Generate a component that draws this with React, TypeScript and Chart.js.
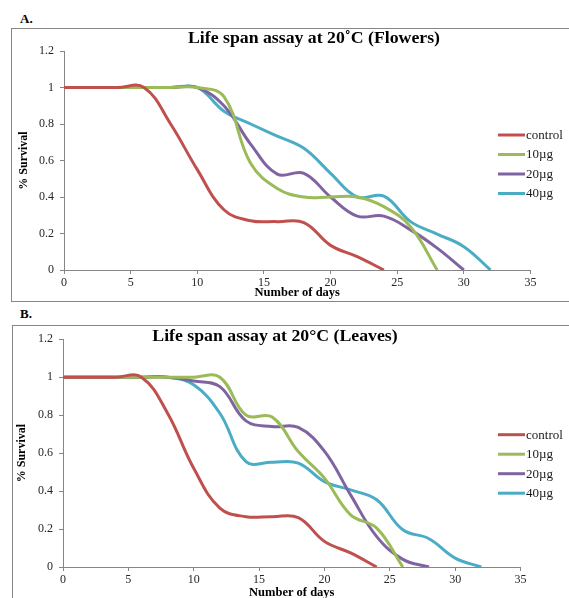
import React, { useEffect, useRef } from "react";
import { Chart, registerables } from "chart.js";

Chart.register(...registerables);

// ---------- data ----------
const seriesNames = ["control", "10µg", "20µg", "40µg"];
const seriesColors = ["#C0504D", "#9BBB59", "#8064A2", "#4BACC6"];

// Panel A (Flowers)
const controlDaysA = [0, 2, 4, 6, 8, 10, 12, 14, 16, 18, 20, 22, 24];
const controlA = [1, 1, 1, 1, 0.8, 0.55, 0.33, 0.27, 0.265, 0.26, 0.135, 0.073, 0];
const dose10DaysA = [0, 2, 4, 6, 8, 10, 12, 14, 16, 18, 20, 22, 24, 26, 28];
const dose10A = [1, 1, 1, 1, 1, 1, 0.95, 0.585, 0.447, 0.4, 0.4, 0.4, 0.347, 0.237, 0];
const dose20DaysA = [0, 2, 4, 6, 8, 10, 12, 14, 16, 18, 20, 22, 24, 26, 28, 30];
const dose20A = [1, 1, 1, 1, 1, 1, 0.9, 0.69, 0.525, 0.53, 0.4, 0.295, 0.295, 0.22, 0.12, 0];
const dose40DaysA = [0, 2, 4, 6, 8, 10, 12, 14, 16, 18, 20, 22, 24, 26, 28, 30, 32];
const dose40A = [1, 1, 1, 1, 1, 1, 0.87, 0.8, 0.734, 0.667, 0.53, 0.4, 0.405, 0.265, 0.197, 0.128, 0];

// Panel B (Leaves)
const controlDaysB = [0, 2, 4, 6, 8, 10, 12, 14, 16, 18, 20, 22, 24];
const controlB = [1, 1, 1, 1, 0.81, 0.52, 0.31, 0.265, 0.265, 0.26, 0.135, 0.074, 0];
const dose10DaysB = [0, 2, 4, 6, 8, 10, 12, 14, 16, 18, 20, 22, 24, 26];
const dose10B = [1, 1, 1, 1, 1, 1, 1, 0.8, 0.79, 0.608, 0.468, 0.275, 0.205, 0];
const dose20DaysB = [0, 2, 4, 6, 8, 10, 12, 14, 16, 18, 20, 22, 24, 26, 28];
const dose20B = [1, 1, 1, 1, 1, 0.98, 0.95, 0.77, 0.74, 0.735, 0.61, 0.38, 0.16, 0.04, 0];
const dose40DaysB = [0, 2, 4, 6, 8, 10, 12, 14, 16, 18, 20, 22, 24, 26, 28, 30, 32];
const dose40B = [1, 1, 1, 1, 1, 0.96, 0.81, 0.555, 0.552, 0.547, 0.45, 0.406, 0.354, 0.196, 0.149, 0.047, 0];

const xMin = 0;
const xMax = 35;
const xStep = 5;
const yMin = 0;
const yMax = 1.2;
const yStep = 0.2;

const titleA = "Life span assay at 20˚C (Flowers)";
const titleB = "Life span assay at 20°C (Leaves)";
const xTitle = "Number of days";
const yTitle = "% Survival";

const FONT = '"Liberation Serif", "Times New Roman", serif';

function toPoints(days: number[], vals: number[]) {
  return days.map((d, i) => ({ x: d, y: vals[i] }));
}

const overlayPlugin = {
  id: "overlay",
  afterDraw(chart: any, _args: any, opts: any) {
    const ctx = chart.ctx as CanvasRenderingContext2D;
    ctx.save();
    ctx.font = `bold 16px ${FONT}`;
    ctx.fillStyle = "#000";
    ctx.textAlign = "center";
    ctx.textBaseline = "alphabetic";
    ctx.translate(opts.titleX, opts.titleY);
    ctx.scale(1.11, 1);
    ctx.fillText(opts.title, 0, 0);
    ctx.restore();
    ctx.save();
    chart.data.datasets.forEach((ds: any, i: number) => {
      const y = opts.legendY + i * opts.legendGap;
      ctx.strokeStyle = ds.borderColor;
      ctx.lineWidth = 3;
      ctx.beginPath();
      ctx.moveTo(opts.legendX, y);
      ctx.lineTo(opts.legendX + 27, y);
      ctx.stroke();
      ctx.font = `13px ${FONT}`;
      ctx.fillStyle = "#1a1a1a";
      ctx.textAlign = "left";
      ctx.textBaseline = "middle";
      ctx.fillText(ds.label, opts.legendX + 28, y + 0.5);
    });
    ctx.restore();
  },
};

type PanelProps = {
  left: number;
  top: number;
  width: number;
  height: number;
  area: { left: number; right: number; top: number; bottom: number };
  title: string;
  titleX: number;
  titleY: number;
  legendX: number;
  legendY: number;
  yTitlePad: number;
  series: { days: number[]; vals: number[] }[];
};

function Panel(p: PanelProps) {
  const ref = useRef<HTMLCanvasElement>(null);
  useEffect(() => {
    if (!ref.current) return;
    const axisColor = "#868686";
    const chart = new Chart(ref.current, {
      type: "line",
      data: {
        datasets: p.series.map((s, i) => ({
          label: seriesNames[i],
          data: toPoints(s.days, s.vals),
          borderColor: seriesColors[i],
          backgroundColor: seriesColors[i],
          borderWidth: 3,
          pointRadius: 0,
          tension: 0.4,
          fill: false,
        })),
      },
      options: {
        responsive: false,
        animation: false,
        devicePixelRatio: 1,
        layout: {
          padding: {
            left: 0,
            top: p.area.top,
            right: p.width - p.area.right,
            bottom: 0,
          },
        },
        plugins: {
          legend: { display: false },
          title: { display: false },
          tooltip: { enabled: false },
          overlay: {
            title: p.title,
            titleX: p.titleX,
            titleY: p.titleY,
            legendX: p.legendX,
            legendY: p.legendY,
            legendGap: 19.5,
          },
        } as any,
        scales: {
          x: {
            type: "linear",
            min: xMin,
            max: xMax,
            ticks: {
              stepSize: xStep,
              color: "#262626",
              font: { family: FONT, size: 12 },
              padding: 2,
              maxRotation: 0,
            },
            grid: {
              display: true,
              drawOnChartArea: false,
              drawTicks: true,
              tickLength: 4,
              color: axisColor,
            },
            border: { display: true, color: axisColor, width: 1 },
            title: {
              display: true,
              text: xTitle,
              color: "#000",
              font: { family: FONT, size: 12.5, weight: "bold", lineHeight: 1.15 },
              padding: { top: 0, bottom: 0 },
            },
            afterFit: (scale: any) => {
              scale.height = p.height - p.area.bottom;
            },
          },
          y: {
            type: "linear",
            min: yMin,
            max: yMax,
            ticks: {
              stepSize: yStep,
              color: "#262626",
              font: { family: FONT, size: 12 },
              padding: 6,
              callback: (v: any) => String(Number(Number(v).toFixed(1))),
            },
            grid: {
              display: true,
              drawOnChartArea: false,
              drawTicks: true,
              tickLength: 4,
              color: axisColor,
            },
            border: { display: true, color: axisColor, width: 1 },
            title: {
              display: true,
              text: yTitle,
              color: "#000",
              font: { family: FONT, size: 12, weight: "bold", lineHeight: 1.2 },
              padding: { top: p.yTitlePad, bottom: 0 },
            },
            afterFit: (scale: any) => {
              scale.width = p.area.left;
            },
          },
        },
      },
      plugins: [overlayPlugin as any],
    });
    return () => chart.destroy();
  }, []);
  return (
    <canvas
      ref={ref}
      width={p.width}
      height={p.height}
      style={{
        position: "absolute",
        left: p.left,
        top: p.top,
        width: p.width,
        height: p.height,
        display: "block",
      }}
    />
  );
}

export default function App() {
  const seriesA = [
    { days: controlDaysA, vals: controlA },
    { days: dose10DaysA, vals: dose10A },
    { days: dose20DaysA, vals: dose20A },
    { days: dose40DaysA, vals: dose40A },
  ];
  const seriesB = [
    { days: controlDaysB, vals: controlB },
    { days: dose10DaysB, vals: dose10B },
    { days: dose20DaysB, vals: dose20B },
    { days: dose40DaysB, vals: dose40B },
  ];
  const labelStyle: React.CSSProperties = {
    position: "absolute",
    left: 20,
    fontFamily: FONT,
    fontWeight: "bold",
    fontSize: 13,
    lineHeight: "13px",
    color: "#000",
  };
  const boxStyle: React.CSSProperties = {
    position: "absolute",
    boxSizing: "border-box",
    border: "1px solid #868686",
    width: 620,
  };
  return (
    <div
      style={{
        position: "absolute",
        left: 0,
        top: 0,
        width: 569,
        height: 598,
        overflow: "hidden",
        background: "#fff",
      }}
    >
      <div style={{ ...labelStyle, top: 12 }}>A.</div>
      <div style={{ ...boxStyle, left: 11, top: 28, height: 274 }} />
      <Panel
        left={12}
        top={29}
        width={557}
        height={271}
        area={{ left: 52, right: 518.5, top: 22, bottom: 241 }}
        title={titleA}
        titleX={302}
        titleY={14}
        legendX={486}
        legendY={106}
        yTitlePad={5}
        series={seriesA}
      />
      <div style={{ ...labelStyle, top: 307 }}>B.</div>
      <div style={{ ...boxStyle, left: 12, top: 325, height: 300 }} />
      <Panel
        left={12}
        top={326}
        width={557}
        height={274}
        area={{ left: 51, right: 508.5, top: 13, bottom: 241 }}
        title={titleB}
        titleX={263}
        titleY={15}
        legendX={486}
        legendY={108.7}
        yTitlePad={3}
        series={seriesB}
      />
    </div>
  );
}
